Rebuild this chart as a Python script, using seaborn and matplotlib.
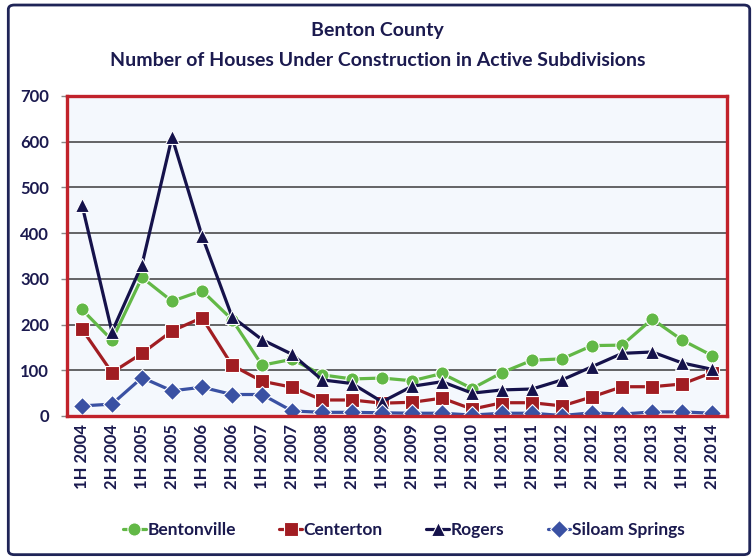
import pandas as pd
import matplotlib.pyplot as plt
import seaborn as sns
from matplotlib.patches import FancyBboxPatch

# periods and values
periods = [f"{h} {y}" for y in range(2004, 2015) for h in ("1H", "2H")]
bentonville = [233, 166, 303, 251, 274, 211, 111, 124, 90, 81, 83,
               77, 93, 60, 95, 122, 125, 154, 155, 212, 166, 132]
centerton = [190, 95, 137, 186, 215, 111, 76, 63, 35, 35, 28,
             30, 39, 15, 29, 29, 22, 42, 64, 64, 70, 95]
rogers = [462, 184, 331, 610, 394, 217, 167, 135, 79, 71, 31,
          65, 75, 50, 57, 59, 79, 108, 137, 140, 116, 102]
siloam = [22, 26, 84, 55, 63, 47, 47, 11, 8, 8, 7,
          6, 6, 2, 6, 6, 1, 7, 4, 9, 9, 6]

cities = ["Bentonville", "Centerton", "Rogers", "Siloam Springs"]
farben = {"Bentonville": "#62B846", "Centerton": "#A11D22",
          "Rogers": "#15124B", "Siloam Springs": "#3A51A3"}
marker_map = {"Bentonville": "o", "Centerton": "s",
              "Rogers": "^", "Siloam Springs": "D"}
text_col = "#1B1A4F"

rows = []
for city, vals in zip(cities, [bentonville, centerton, rogers, siloam]):
    for i, (p, v) in enumerate(zip(periods, vals)):
        rows.append({"pos": i, "period": p, "city": city, "houses": v})
df = pd.DataFrame(rows)

sns.set_style("white")
plt.rcParams["font.family"] = ["Lato", "DejaVu Sans"]
plt.rcParams["font.weight"] = "bold"

fig = plt.figure(figsize=(7.55, 5.58), dpi=100)
ax = fig.add_axes([0.0887, 0.2545, 0.8745, 0.5735])
ax.set_facecolor("#F4F8FD")

sns.lineplot(data=df, x="pos", y="houses", hue="city", style="city",
             markers=marker_map, dashes=False, palette=farben,
             hue_order=cities, style_order=cities,
             linewidth=2.3, markersize=9.5, markeredgewidth=0.8, ax=ax)

ax.set_xlim(-0.5, len(periods) - 0.5)
ax.set_ylim(0, 700)
ax.set_yticks(range(0, 701, 100))
ax.set_xticks(range(len(periods)))
ax.set_xticklabels(periods, rotation=90, fontsize=12, fontweight="bold", color=text_col)
ax.set_yticklabels([str(v) for v in range(0, 701, 100)], fontsize=12,
                   fontweight="bold", color=text_col)
ax.tick_params(axis="x", length=0, pad=6)
ax.tick_params(axis="y", length=4, width=1, color="#888888", pad=9, left=True)
ax.set_xlabel("")
ax.set_ylabel("")

for v in range(100, 700, 100):
    ax.axhline(v, color="#3C3C3C", lw=1.1, zorder=0.5)

for s in ax.spines.values():
    s.set_color("#C1222B")
    s.set_linewidth(2.4)
    s.set_visible(True)

handles, labels = ax.get_legend_handles_labels()
ax.legend(handles, labels, loc="center", bbox_to_anchor=(0.535, 0.05),
          bbox_transform=fig.transFigure, ncol=4, frameon=False,
          handlelength=1.3, handletextpad=0.1, columnspacing=2.5,
          prop={"size": 12.5, "weight": "bold"}, labelcolor=text_col)

fig.text(0.5, 0.946, "Benton County", ha="center", va="center",
         fontsize=14, fontweight="bold", color=text_col)
fig.text(0.5, 0.892, "Number of Houses Under Construction in Active Subdivisions",
         ha="center", va="center", fontsize=14, fontweight="bold", color=text_col)

rahmen = FancyBboxPatch((0.011, 0.006), 0.982, 0.985, transform=fig.transFigure,
                        boxstyle="round,pad=0,rounding_size=0.008",
                        fill=False, ec="#1F2457", lw=2.0)
fig.patches.append(rahmen)

fig.savefig("out.png", dpi=100)
